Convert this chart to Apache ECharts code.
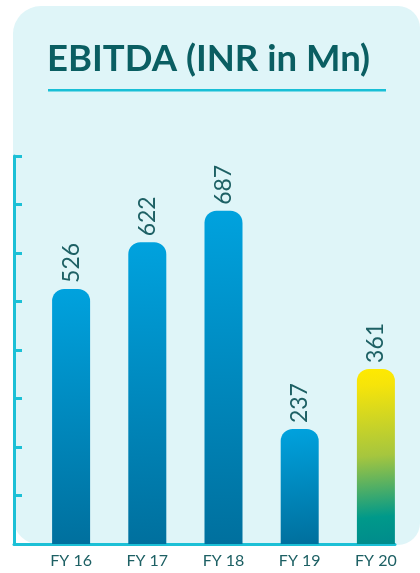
<!DOCTYPE html>
<html>
<head>
<meta charset="utf-8">
<script src="https://cdn.jsdelivr.net/npm/echarts@6/dist/echarts.min.js"></script>
<style>
  html, body { margin: 0; padding: 0; background: #fff; }
  #chart { width: 420px; height: 573px; }
</style>
</head>
<body>
<div id="chart"></div>
<script>
const titleText = 'EBITDA (INR in Mn)'
const years = ['FY 16', 'FY 17', 'FY 18', 'FY 19', 'FY 20']
const ebitda = [526, 622, 687, 237, 361]

const chart = echarts.init(document.getElementById('chart'))

// blue bars, last one yellow -> teal
const blueFill = new echarts.graphic.LinearGradient(0, 0, 0.3, 1, [
  { offset: 0, color: '#00a2de' },
  { offset: 1, color: '#00709e' }
])
const greenFill = new echarts.graphic.LinearGradient(0, 0, 0.4, 1, [
  { offset: 0, color: '#ffea00' },
  { offset: 0.1, color: '#f6e40a' },
  { offset: 0.5, color: '#a6c63e' },
  { offset: 0.85, color: '#00998a' },
  { offset: 1, color: '#008c8c' }
])

const axisColor = '#1cc0d6'
const textColor = '#1d6064'

const option = {
  backgroundColor: '#ffffff',
  graphic: [
    {
      type: 'rect',
      z: -10,
      shape: { x: 13, y: 6, width: 407, height: 539, r: [28, 22, 22, 28] },
      style: { fill: '#dff5f8' }
    },
    {
      type: 'text',
      left: 47,
      top: 41,
      style: {
        text: titleText,
        font: 'bold 36.5px Lato',
        fill: '#0a5e62'
      }
    },
    {
      type: 'rect',
      shape: { x: 48, y: 89, width: 338, height: 2.5 },
      style: { fill: '#18bfd6' }
    }
  ],
  grid: { left: 14, right: 25, top: 156, bottom: 29 },
  xAxis: {
    type: 'category',
    data: years,
    axisLine: { lineStyle: { color: axisColor, width: 3 } },
    axisTick: { show: false },
    axisLabel: {
      color: textColor,
      fontFamily: 'Lato',
      fontSize: 16,
      margin: 9,
      padding: [0, 0, 0, 38]
    }
  },
  yAxis: {
    type: 'value',
    min: 0,
    max: 800,
    interval: 100,
    axisLine: { show: true, lineStyle: { color: axisColor, width: 3 } },
    axisTick: { show: true, inside: true, length: 8, lineStyle: { color: axisColor, width: 3 } },
    axisLabel: { show: false },
    splitLine: { show: false }
  },
  series: [
    {
      // empty spacer so the real bar sits right of the band centre
      name: 'spacer',
      type: 'bar',
      barWidth: 38,
      barGap: '0%',
      silent: true,
      data: years.map(() => '-'),
      itemStyle: { color: 'transparent' }
    },
    {
      name: 'EBITDA',
      type: 'bar',
      barWidth: 38,
      data: ebitda.map((v, i) => ({
        value: v,
        itemStyle: { color: i === ebitda.length - 1 ? greenFill : blueFill }
      })),
      itemStyle: { borderRadius: [12, 12, 0, 0] },
      label: {
        show: true,
        position: 'top',
        rotate: 90,
        align: 'left',
        verticalAlign: 'middle',
        distance: 6,
        color: textColor,
        fontFamily: 'Lato',
        fontSize: 23
      }
    }
  ]
}

chart.setOption(option)
</script>
</body>
</html>
